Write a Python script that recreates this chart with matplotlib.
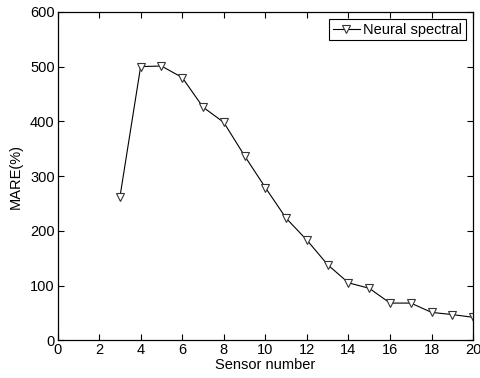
import matplotlib
matplotlib.use("Agg")
import matplotlib.pyplot as plt

sensor_number = [3, 4, 5, 6, 7, 8, 9, 10, 11, 12, 13, 14, 15, 16, 17, 18, 19, 20]
mare = [261, 500, 501, 480, 426, 398, 337, 279, 223, 183, 138, 105, 95, 68, 68, 51, 47, 42]
x_ticks = [0, 2, 4, 6, 8, 10, 12, 14, 16, 18, 20]
y_ticks = [0, 100, 200, 300, 400, 500, 600]

plt.rcParams['font.family'] = ['Liberation Sans', 'DejaVu Sans']
fig = plt.figure(figsize=(4.8, 3.78), dpi=100)
ax = fig.add_axes([0.1198, 0.0997, 0.866, 0.869])
ax.plot(sensor_number, mare, color='black', linewidth=0.8, marker='v',
        markersize=5.5, markerfacecolor='white', markeredgecolor='#333333',
        markeredgewidth=0.8, label='Neural spectral')
ax.set_xlim(0, 20)
ax.set_ylim(0, 600)
ax.set_xticks(x_ticks)
ax.set_yticks(y_ticks)
ax.tick_params(direction='in', top=True, right=True, labelsize=10.5, length=4, width=0.8, pad=2)
for s in ax.spines.values():
    s.set_linewidth(0.9)
ax.set_xlabel('Sensor number', fontsize=10.5, labelpad=1)
ax.set_ylabel('MARE(%)', fontsize=10.5, labelpad=5)
leg = ax.legend(loc='upper right', fontsize=10.5, fancybox=False, framealpha=1,
                edgecolor='black', handlelength=1.9, handletextpad=0.2,
                borderpad=0.25, borderaxespad=0.5)
leg.get_frame().set_linewidth(0.8)
fig.savefig('out.png', dpi=100)
